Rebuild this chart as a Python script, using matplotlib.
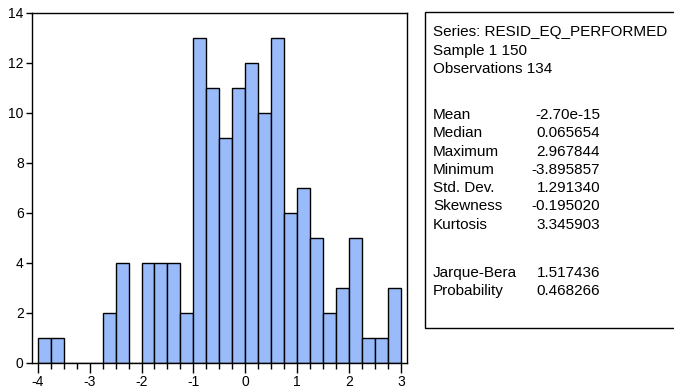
import numpy as np
import matplotlib.pyplot as plt
from matplotlib.patches import Rectangle
from matplotlib.ticker import MultipleLocator

plt.rcParams['font.family'] = ['Liberation Sans Narrow', 'Liberation Sans', 'DejaVu Sans']
plt.rcParams['axes.unicode_minus'] = False

# residual histogram, bins of width 0.25 from -4 to 3
bin_edges = np.linspace(-4.0, 3.0, 29)
counts = [1, 1, 0, 0, 0, 2, 4, 0, 4, 4, 4, 2, 13, 11, 9, 11, 12, 10, 13,
          6, 7, 5, 2, 3, 5, 1, 1, 3]

stat_names = ['Mean', 'Median', 'Maximum', 'Minimum', 'Std. Dev.',
              'Skewness', 'Kurtosis']
stat_values = ['-2.70e-15', '0.065654', '2.967844', '-3.895857',
               '1.291340', '-0.195020', '3.345903']
test_names = ['Jarque-Bera', 'Probability']
test_values = ['1.517436', '0.468266']
header = ['Series: RESID_EQ_PERFORMED', 'Sample 1 150', 'Observations 134']

W, H = 674, 390
fig = plt.figure(figsize=(W / 100, H / 100), dpi=100)
ax = fig.add_axes([32 / W, 1 - 363 / H, 375 / W, 350 / H])

ax.bar(bin_edges[:-1], counts, width=0.25, align='edge',
       color='#99bbfa', edgecolor='black', linewidth=1.0)

ax.set_xlim(-4.11, 3.115)
ax.set_ylim(0, 14)
ax.xaxis.set_major_locator(MultipleLocator(1))
ax.xaxis.set_minor_locator(MultipleLocator(0.25))
ax.yaxis.set_major_locator(MultipleLocator(2))
ax.tick_params(axis='x', which='major', length=7, width=1, pad=2, labelsize=10)
ax.tick_params(axis='x', which='minor', length=4, width=1)
ax.tick_params(axis='y', which='major', length=4, width=1, pad=2, labelsize=10)
for s in ax.spines.values():
    s.set_linewidth(1.0)

# statistics panel
fig.add_artist(Rectangle((425 / W, 1 - 328 / H), 260 / W, 316 / H,
                         transform=fig.transFigure, fill=False,
                         edgecolor='black', linewidth=1.0))

fs = 11
x_lab = 433 / W
x_val = 600 / W
ys = [32, 50.5, 69]
for y, t in zip(ys, header):
    fig.text(x_lab, 1 - y / H, t, fontsize=fs, va='center', ha='left')

y0 = 115
for i, (n, v) in enumerate(zip(stat_names, stat_values)):
    y = 1 - (y0 + i * 18.3) / H
    fig.text(x_lab, y, n, fontsize=fs, va='center', ha='left')
    fig.text(x_val, y, v, fontsize=fs, va='center', ha='right')

y0 = 273
for i, (n, v) in enumerate(zip(test_names, test_values)):
    y = 1 - (y0 + i * 18.3) / H
    fig.text(x_lab, y, n, fontsize=fs, va='center', ha='left')
    fig.text(x_val, y, v, fontsize=fs, va='center', ha='right')

fig.savefig('out.png', dpi=100)
